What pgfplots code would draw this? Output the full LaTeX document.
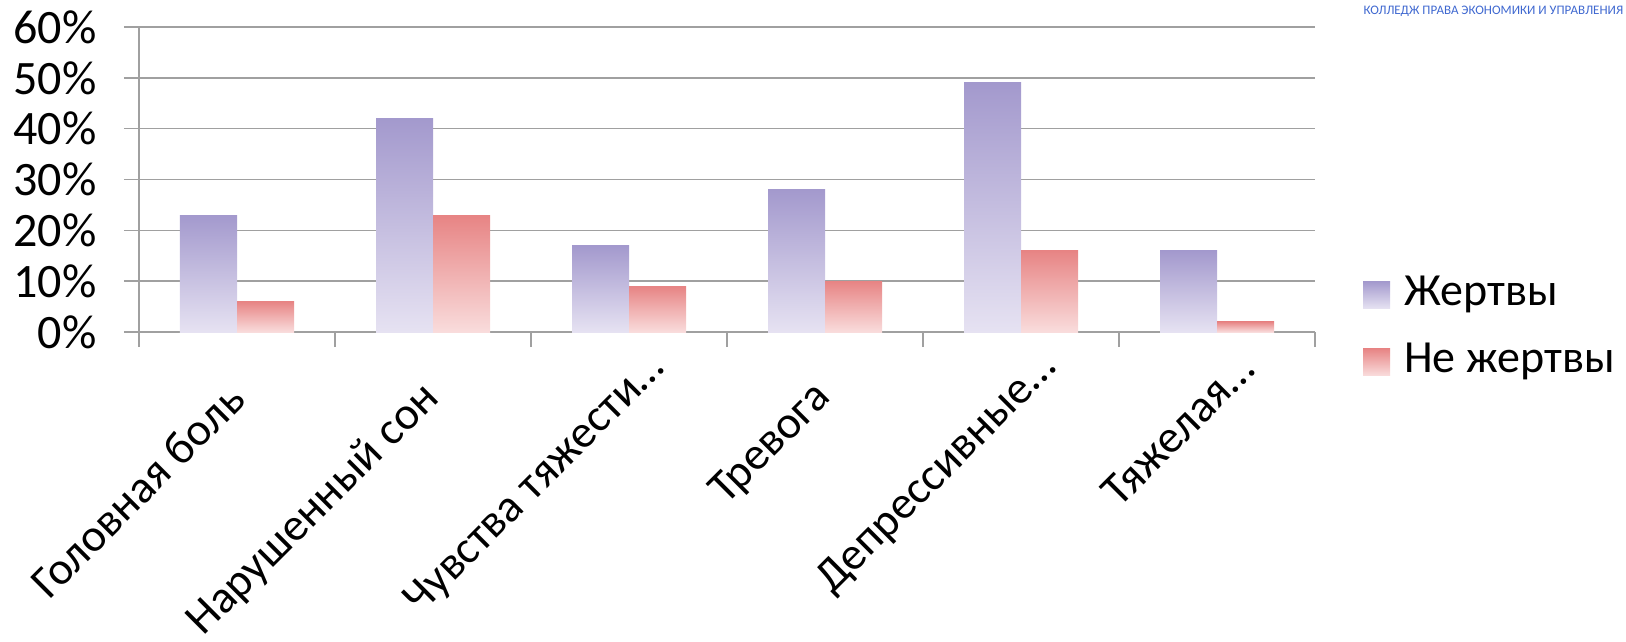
\documentclass[border=0pt]{standalone}
\usepackage{pgfplots}
\pgfplotsset{compat=1.18}
\usepackage{fontspec}
\setmainfont{Carlito}
\definecolor{pTop}{HTML}{A399CD}
\definecolor{pBot}{HTML}{E6E2F2}
\definecolor{rTop}{HTML}{E78484}
\definecolor{rBot}{HTML}{F9DCDC}
\definecolor{axgray}{HTML}{A0A0A0}
\definecolor{logoblue}{HTML}{3F68D0}
\begin{document}
\begin{tikzpicture}[x=1pt,y=1pt]
\useasboundingbox (0,0) rectangle (1626,641);
\begin{axis}[
  at={(139pt,309pt)}, anchor=south west,
  scale only axis, width=1176pt, height=305pt,
  xmin=-0.5, xmax=5.5, ymin=0, ymax=60,
  ybar=0pt, bar width=57pt,
  axis lines*=left,
  axis line style={draw=axgray, line width=1.5pt},
  xtick={-0.5,0.5,1.5,2.5,3.5,4.5,5.5},
  x tick label as interval,
  xticklabels={Головная боль,Нарушенный сон,Чувства тяжести…\hspace*{-42pt},Тревога,Депрессивные…\hspace*{-42pt},Тяжелая…\hspace*{-42pt}},
  ytick={0,10,20,30,40,50,60},
  yticklabels={0\%,10\%,20\%,30\%,40\%,50\%,60\%},
  tick align=outside, major tick length=15pt,
  tick style={draw=axgray, line width=1.5pt},
  ymajorgrids, grid style={draw=axgray, line width=1.5pt},
  yticklabel style={font=\fontsize{48}{56}\selectfont, anchor=east, xshift=-24pt},
  xticklabel style={font=\fontsize{46}{54}\selectfont, xshift=2pt, yshift=-42pt, rotate=45, anchor=east},
  legend style={draw=none, fill=none, at={(axis description cs:1,0)}, anchor=west,
    xshift=48pt, yshift=7pt, font=\fontsize{46}{54}\selectfont, row sep=32pt, inner sep=0pt},
  legend cell align=left,
  legend image code/.code={\path[#1,draw=none] (0pt,-17pt) rectangle (27pt,10pt);},
]
% Жертвы
\addplot[draw=none, bar shift=-28.5pt, top color=pTop, bottom color=pBot] coordinates {(0,23)};
\addlegendentry{\hspace*{12pt}Жертвы}
% Не жертвы
\addplot[draw=none, bar shift=28.5pt, top color=rTop, bottom color=rBot] coordinates {(0,6)};
\addlegendentry{\hspace*{12pt}Не жертвы}
\addplot[forget plot, draw=none, bar shift=-28.5pt, top color=pTop, bottom color=pBot] coordinates {(1,42)};
\addplot[forget plot, draw=none, bar shift=-28.5pt, top color=pTop, bottom color=pBot] coordinates {(2,17)};
\addplot[forget plot, draw=none, bar shift=-28.5pt, top color=pTop, bottom color=pBot] coordinates {(3,28)};
\addplot[forget plot, draw=none, bar shift=-28.5pt, top color=pTop, bottom color=pBot] coordinates {(4,49)};
\addplot[forget plot, draw=none, bar shift=-28.5pt, top color=pTop, bottom color=pBot] coordinates {(5,16)};
\addplot[forget plot, draw=none, bar shift=28.5pt, top color=rTop, bottom color=rBot] coordinates {(1,23)};
\addplot[forget plot, draw=none, bar shift=28.5pt, top color=rTop, bottom color=rBot] coordinates {(2,9)};
\addplot[forget plot, draw=none, bar shift=28.5pt, top color=rTop, bottom color=rBot] coordinates {(3,10)};
\addplot[forget plot, draw=none, bar shift=28.5pt, top color=rTop, bottom color=rBot] coordinates {(4,16)};
\addplot[forget plot, draw=none, bar shift=28.5pt, top color=rTop, bottom color=rBot] coordinates {(5,2)};
\end{axis}
\node[anchor=west, text=logoblue, font=\fontsize{13}{15}\selectfont] at (1360,630) {КОЛЛЕДЖ ПРАВА ЭКОНОМИКИ И УПРАВЛЕНИЯ};
\end{tikzpicture}
\end{document}
